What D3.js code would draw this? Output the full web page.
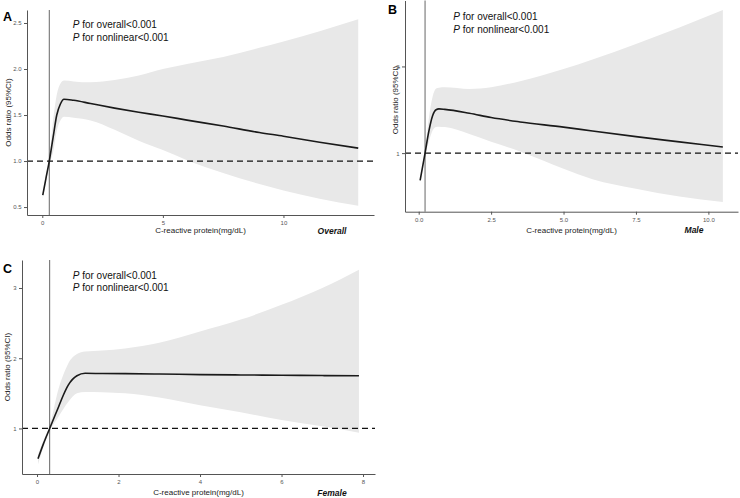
<!DOCTYPE html>
<html>
<head>
<meta charset="utf-8">
<script src="https://cdn.jsdelivr.net/npm/d3@7"></script>
<style>
  body { margin: 0; background: #fff; }
  svg { display: block; font-family: "Liberation Sans", Arial, sans-serif; }
</style>
</head>
<body>
<svg id="chart"></svg>
<script>
// ---- data ----
// A: overall
const crpA = [0.02, 0.15, 0.29, 0.45, 0.6, 0.75, 0.9, 1.3, 2, 3, 4, 5, 6, 7.5, 9, 10, 11.5, 13.1];
const orA  = [0.63, 0.81, 1.0, 1.26, 1.5, 1.62, 1.672, 1.66, 1.625, 1.575, 1.53, 1.49, 1.445, 1.38, 1.31, 1.27, 1.205, 1.14];
const lowA = [0.59, 0.78, 0.96, 1.1, 1.33, 1.44, 1.48, 1.47, 1.44, 1.34, 1.22, 1.12, 1.01, 0.87, 0.75, 0.68, 0.59, 0.515];
const upA  = [0.66, 0.84, 1.04, 1.45, 1.72, 1.84, 1.875, 1.865, 1.855, 1.88, 1.93, 2.0, 2.055, 2.13, 2.23, 2.3, 2.41, 2.54];
const refA = 0.29;

// B: male
const crpB = [0.05, 0.22, 0.35, 0.48, 0.6, 0.7, 0.9, 1.75, 2.5, 3.5, 5, 6, 7.5, 9, 10.5];
const orB  = [0.685, 1.0, 1.25, 1.43, 1.5, 1.51, 1.505, 1.46, 1.41, 1.36, 1.3, 1.255, 1.19, 1.13, 1.07];
const lowB = [0.665, 0.97, 1.13, 1.26, 1.3, 1.305, 1.3, 1.22, 1.13, 1.02, 0.82, 0.7, 0.59, 0.5, 0.435];
const upB  = [0.7, 1.03, 1.4, 1.65, 1.745, 1.755, 1.76, 1.74, 1.76, 1.83, 1.97, 2.08, 2.26, 2.45, 2.65];
const refB = 0.22;

// C: female
const crpC = [0.025, 0.15, 0.31, 0.53, 0.65, 0.77, 0.98, 1.18, 1.6, 2.16, 3, 4, 5, 6, 7, 7.9];
const orC  = [0.57, 0.77, 1.0, 1.31, 1.48, 1.62, 1.75, 1.785, 1.782, 1.78, 1.775, 1.767, 1.762, 1.757, 1.753, 1.75];
const lowC = [0.49, 0.72, 0.96, 1.17, 1.28, 1.38, 1.5, 1.52, 1.515, 1.5, 1.44, 1.33, 1.23, 1.12, 1.03, 0.94];
const upC  = [0.63, 0.82, 1.04, 1.57, 1.77, 1.93, 2.06, 2.095, 2.11, 2.14, 2.22, 2.38, 2.55, 2.76, 3.0, 3.26];
const refC = 0.31;

// ticks
const xTicksA = [0, 5, 10],               xTickLabA = ["0", "5", "10"];
const yTicksA = [0.5, 1, 1.5, 2, 2.5],    yTickLabA = ["0.5", "1.0", "1.5", "2.0", "2.5"];
const xTicksB = [0, 2.5, 5, 7.5, 10],     xTickLabB = ["0.0", "2.5", "5.0", "7.5", "10.0"];
const yTicksB = [1, 2],                   yTickLabB = ["1", "2"];
const xTicksC = [0, 2, 4, 6, 8],          xTickLabC = ["0", "2", "4", "6", "8"];
const yTicksC = [1, 2, 3],                yTickLabC = ["1", "2", "3"];

const xTitle = "C-reactive protein(mg/dL)";
const yTitle = "Odds ratio (95%CI)";
const pLines = [" for overall<0.001", " for nonlinear<0.001"];

// ---- layout ----
const width = 740, height = 498;
const svg = d3.select("#chart").attr("width", width).attr("height", height);

const panels = [
  { letter: "A", sub: "Overall", x: crpA, or: orA, lo: lowA, hi: upA, ref: refA,
    xt: xTicksA, xtl: xTickLabA, yt: yTicksA, ytl: yTickLabA,
    box: { l: 27, r: 374, t: 10, b: 215 },
    letterPos: [3, 20.7], pPos: [72.7, 28.3], xTitleY: 233, subPos: [332, 234], yTitlePos: [10.5, 112.5] },
  { letter: "B", sub: "Male", x: crpB, or: orB, lo: lowB, hi: upB, ref: refB,
    xt: xTicksB, xtl: xTickLabB, yt: yTicksB, ytl: yTickLabB,
    box: { l: 405, r: 738, t: 0.5, b: 211.7 },
    letterPos: [388, 14.3], pPos: [453.3, 20], xTitleY: 233, subPos: [694, 233], yTitlePos: [397.5, 100] },
  { letter: "C", sub: "Female", x: crpC, or: orC, lo: lowC, hi: upC, ref: refC,
    xt: xTicksC, xtl: xTickLabC, yt: yTicksC, ytl: yTickLabC,
    box: { l: 22, r: 375, t: 260, b: 474 },
    letterPos: [3, 273.3], pPos: [72.7, 278.7], xTitleY: 495, subPos: [332, 496], yTitlePos: [10, 367] },
];

// ggplot-like 5% expansion
function expand(ext) {
  const pad = (ext[1] - ext[0]) * 0.05;
  return [ext[0] - pad, ext[1] + pad];
}

panels.forEach((p) => {
  const b = p.box;
  const x = d3.scaleLinear().domain(expand(d3.extent(p.x))).range([b.l, b.r]);
  const y = d3.scaleLinear().domain(expand([d3.min(p.lo), d3.max(p.hi)])).range([b.b, b.t]);
  const rows = p.x.map((v, i) => ({ x: v, or: p.or[i], lo: p.lo[i], hi: p.hi[i] }));

  const g = svg.append("g");

  // confidence band
  g.append("path")
    .datum(rows)
    .attr("fill", "#e8e8e8")
    .attr("d", d3.area().curve(d3.curveMonotoneX)
      .x((d) => x(d.x)).y0((d) => y(d.lo)).y1((d) => y(d.hi)));

  // reference lines
  g.append("line")
    .attr("x1", x(p.ref)).attr("x2", x(p.ref))
    .attr("y1", b.t).attr("y2", b.b)
    .attr("stroke", "#666").attr("stroke-width", 1);

  g.append("line")
    .attr("x1", b.l).attr("x2", b.r)
    .attr("y1", y(1)).attr("y2", y(1))
    .attr("stroke", "#111").attr("stroke-width", 1.3)
    .attr("stroke-dasharray", "6,4");

  // OR curve
  g.append("path")
    .datum(rows)
    .attr("fill", "none")
    .attr("stroke", "#1a1a1a")
    .attr("stroke-width", 1.6)
    .attr("d", d3.line().curve(d3.curveMonotoneX).x((d) => x(d.x)).y((d) => y(d.or)));

  // axes
  const xAxis = g.append("g")
    .attr("transform", `translate(0,${b.b})`)
    .call(d3.axisBottom(x).tickValues(p.xt).tickFormat((d, i) => p.xtl[i])
      .tickSize(3).tickSizeOuter(0).tickPadding(3));
  const yAxis = g.append("g")
    .attr("transform", `translate(${b.l},0)`)
    .call(d3.axisLeft(y).tickValues(p.yt).tickFormat((d, i) => p.ytl[i])
      .tickSize(3).tickSizeOuter(0).tickPadding(2.5));

  [xAxis, yAxis].forEach((a) => {
    a.select(".domain").attr("stroke", "#555").attr("stroke-width", 1);
    a.selectAll(".tick line").attr("stroke", "#555");
    a.selectAll(".tick text").attr("fill", "#555").attr("font-size", 6)
      .attr("font-family", "'Liberation Sans', Arial, sans-serif");
  });

  // axis titles
  g.append("text")
    .attr("x", (b.l + b.r) / 2).attr("y", p.xTitleY)
    .attr("text-anchor", "middle").attr("font-size", 8).attr("fill", "#222")
    .text(xTitle);

  g.append("text")
    .attr("transform", `translate(${p.yTitlePos[0]},${p.yTitlePos[1]}) rotate(-90)`)
    .attr("text-anchor", "middle").attr("font-size", 8).attr("fill", "#222")
    .text(yTitle);

  // subgroup label
  g.append("text")
    .attr("x", p.subPos[0]).attr("y", p.subPos[1])
    .attr("text-anchor", "middle").attr("font-size", 8.5)
    .attr("font-weight", "bold").attr("font-style", "italic").attr("fill", "#111")
    .text(p.sub);

  // panel letter
  g.append("text")
    .attr("x", p.letterPos[0]).attr("y", p.letterPos[1])
    .attr("font-size", 12.5).attr("font-weight", "bold").attr("fill", "#000")
    .text(p.letter);

  // P-value annotation
  pLines.forEach((s, i) => {
    const t = g.append("text")
      .attr("x", p.pPos[0]).attr("y", p.pPos[1] + i * 12.6)
      .attr("font-size", 10).attr("fill", "#111");
    t.append("tspan").attr("font-style", "italic").text("P");
    t.append("tspan").text(s);
  });
});
</script>
</body>
</html>
